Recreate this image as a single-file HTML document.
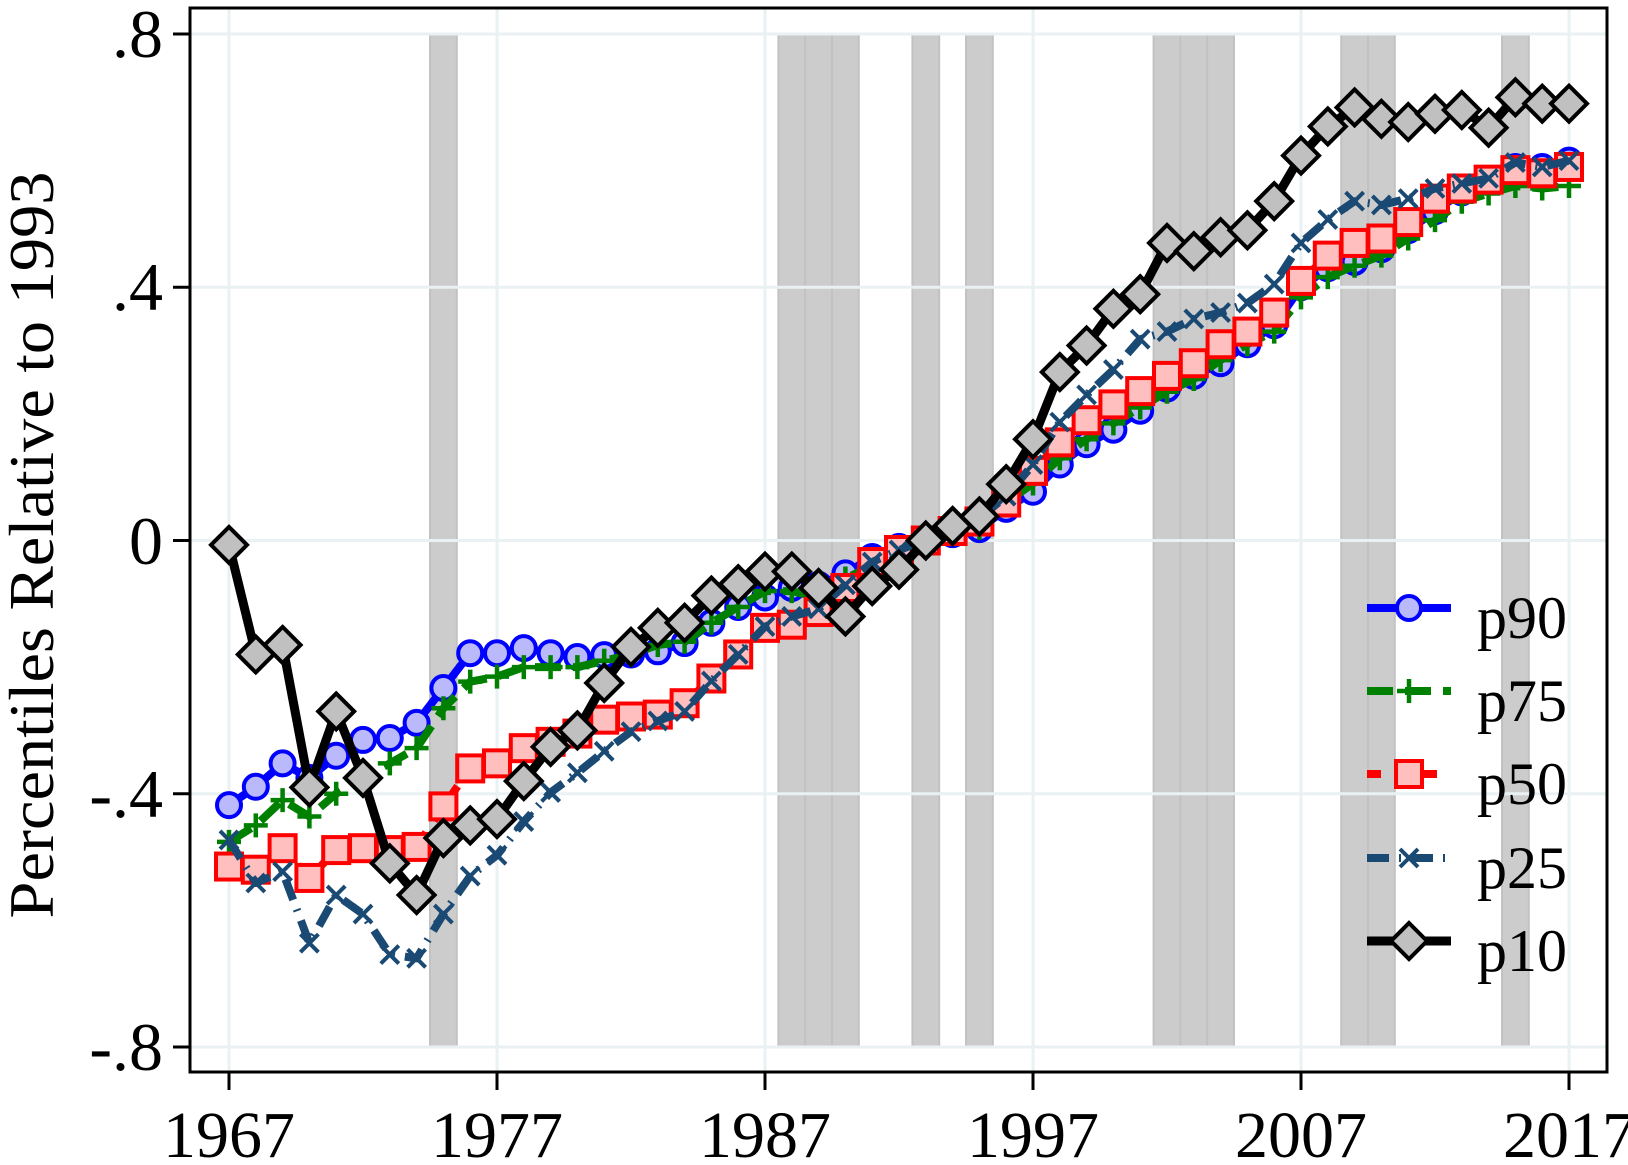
<!DOCTYPE html>
<html><head><meta charset="utf-8"><style>
html,body{margin:0;padding:0;background:#fff;}
svg{display:block;}
text{font-family:"Liberation Serif","Times New Roman",Times,serif;fill:#000;}
</style></head><body>
<svg id="s" width="1628" height="1165" viewBox="0 0 1628 1165" xmlns="http://www.w3.org/2000/svg" font-family="Liberation Serif, Times New Roman, serif">
<rect x="0" y="0" width="1628" height="1165" fill="#fff"/>
<g id="bands"></g>
<g id="grid" stroke="#eaf1f3" stroke-width="3"></g>
<g id="series"></g>
<rect x="190" y="8" width="1417" height="1064" fill="none" stroke="#000" stroke-width="3"/>
<g id="ticks" stroke="#000" stroke-width="3"></g>
<g font-size="68" text-anchor="end">
<text x="163" y="57">.8</text>
<text x="163" y="310">.4</text>
<text x="163" y="564">0</text>
<text x="163" y="817">-.4</text>
<text x="163" y="1070">-.8</text>
</g>
<g font-size="66" text-anchor="middle">
<text x="229" y="1157">1967</text>
<text x="497" y="1157">1977</text>
<text x="765" y="1157">1987</text>
<text x="1033" y="1157">1997</text>
<text x="1301" y="1157">2007</text>
<text x="1569" y="1157">2017</text>
</g>
<text transform="translate(53,545) rotate(-90)" font-size="64" text-anchor="middle" textLength="747" lengthAdjust="spacingAndGlyphs">Percentiles Relative to 1993</text>
<g id="legend"></g>
<g font-size="60">
<text x="1477" y="638">p90</text>
<text x="1477" y="721">p75</text>
<text x="1477" y="804">p50</text>
<text x="1477" y="888">p25</text>
<text x="1477" y="971">p10</text>
</g>
</svg>
<script>
const NS="http://www.w3.org/2000/svg";
const X=y=>229+(y-1967)*26.8, Y=v=>540.5-v*633.1;
function el(p,t,a){const e=document.createElementNS(NS,t);for(const k in a)e.setAttribute(k,a[k]);p.appendChild(e);return e;}
const bands=document.getElementById('bands');
[1975,1988,1989,1990,1993,1995,2002,2003,2004,2009,2010,2015].forEach(y=>{
 el(bands,'rect',{x:X(y)-13.4,y:34,width:26.8,height:1013,fill:'#cccccc',stroke:'#c2c2c2','stroke-width':2});
});
const grid=document.getElementById('grid'),ticks=document.getElementById('ticks');
[.8,.4,0,-.4,-.8].forEach(v=>{el(grid,'line',{x1:191,x2:1606,y1:Y(v),y2:Y(v)});el(ticks,'line',{x1:173,x2:190,y1:Y(v),y2:Y(v)});});
[1967,1977,1987,1997,2007,2017].forEach(y=>{el(grid,'line',{x1:X(y),x2:X(y),y1:9,y2:1071});el(ticks,'line',{x1:X(y),x2:X(y),y1:1072,y2:1090});});
const p10=[-.007,-.18,-.165,-.39,-.27,-.375,-.51,-.56,-.47,-.45,-.44,-.38,-.326,-.30,-.225,-.168,-.138,-.13,-.087,-.069,-.049,-.049,-.075,-.12,-.072,-.046,0,.023,.038,.089,.16,.266,.308,.366,.389,.47,.457,.479,.49,.536,.608,.654,.684,.666,.661,.674,.68,.652,.70,.69,.69];
const p90=[-.418,-.389,-.352,-.375,-.34,-.315,-.312,-.288,-.233,-.178,-.178,-.17,-.178,-.184,-.181,-.18,-.175,-.162,-.13,-.105,-.09,-.075,-.07,-.052,-.026,-.01,0,.01,.018,.05,.077,.12,.152,.175,.205,.24,.26,.28,.31,.34,.40,.43,.44,.46,.49,.52,.55,.57,.59,.59,.60];
const p75=[-.476,-.45,-.41,-.436,-.40,-.375,-.352,-.328,-.265,-.223,-.215,-.2,-.2,-.2,-.19,-.18,-.165,-.16,-.13,-.105,-.08,-.08,-.09,-.06,-.04,-.02,0,.01,.02,.06,.09,.13,.16,.185,.21,.235,.255,.285,.31,.33,.384,.416,.434,.45,.477,.506,.535,.548,.56,.556,.56];
const p50=[-.515,-.52,-.486,-.533,-.489,-.486,-.489,-.484,-.42,-.36,-.352,-.328,-.318,-.305,-.283,-.278,-.275,-.257,-.218,-.18,-.138,-.133,-.113,-.075,-.034,-.015,0,.015,.03,.06,.11,.155,.19,.215,.236,.26,.28,.31,.33,.36,.41,.45,.47,.477,.503,.54,.556,.57,.585,.58,.59];
const p25=[-.473,-.541,-.523,-.636,-.56,-.59,-.654,-.66,-.59,-.53,-.497,-.444,-.398,-.367,-.333,-.302,-.285,-.27,-.222,-.18,-.136,-.12,-.108,-.07,-.034,-.015,0,.02,.035,.07,.12,.187,.23,.27,.318,.33,.35,.36,.375,.405,.47,.507,.536,.53,.54,.556,.564,.572,.597,.59,.60];
const S=document.getElementById('series'),L=document.getElementById('legend');
function marker(g,type,x,y){
 if(type=='c') el(g,'circle',{cx:x,cy:y,r:12,fill:'#b9b9fb',stroke:'#0000ff','stroke-width':4});
 else if(type=='p'){el(g,'path',{d:`M${x-12} ${y}H${x+12}M${x} ${y-12}V${y+12}`,stroke:'#008000','stroke-width':4.5});}
 else if(type=='s') el(g,'rect',{x:x-13,y:y-13,width:26,height:26,fill:'#ffbfbf',stroke:'#ff0000','stroke-width':4});
 else if(type=='x') el(g,'path',{d:`M${x-9} ${y-9}L${x+9} ${y+9}M${x-9} ${y+9}L${x+9} ${y-9}`,stroke:'#1a4a73','stroke-width':4});
 else if(type=='d') el(g,'path',{d:`M${x} ${y-18}L${x+18} ${y}L${x} ${y+18}L${x-18} ${y}Z`,fill:'#c0c0c0',stroke:'#000','stroke-width':4});
}
const defs=[[p90,'#0000ff',8,'','c'],[p75,'#008000',8,'26 12','p'],[p50,'#ff0000',8,'14 14','s'],[p25,'#1a4a73',8,'22 10 2 10','x'],[p10,'#000',9,'','d']];
const ly=[608,691,774,858,941];
defs.forEach((d,i)=>{
 const g=el(S,'g',{});
 const pts=d[0].map((v,k)=>X(1967+k).toFixed(1)+','+Y(v).toFixed(1)).join(' ');
 const a={points:pts,fill:'none',stroke:d[1],'stroke-width':d[2],'stroke-linejoin':'round'};
 if(d[3])a['stroke-dasharray']=d[3];
 el(g,'polyline',a);
 d[0].forEach((v,k)=>marker(g,d[4],X(1967+k),Y(v)));
 const lg=el(L,'g',{});
 const la={x1:1367,x2:1451,y1:ly[i],y2:ly[i],stroke:d[1],'stroke-width':d[2]};
 if(d[3])la['stroke-dasharray']=d[3];
 el(lg,'line',la);
 marker(lg,d[4],1409,ly[i]);
});
</script>
</body></html>
